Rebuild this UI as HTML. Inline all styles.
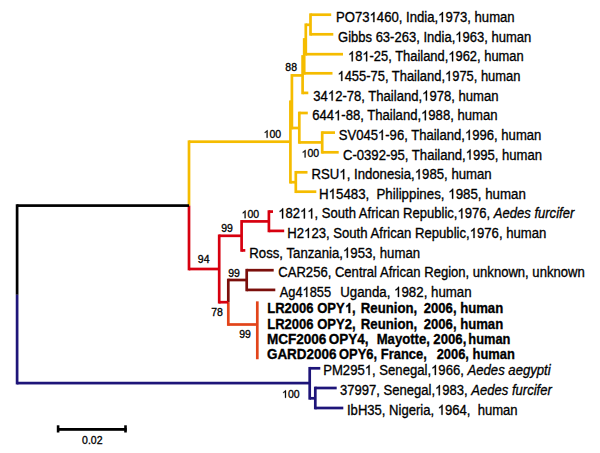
<!DOCTYPE html>
<html><head><meta charset="utf-8"><style>
html,body{margin:0;padding:0;background:#fff;}
svg{display:block;}
.t{font-family:"Liberation Sans",sans-serif;font-size:13px;fill:#000;stroke:#000;stroke-width:0.3px;white-space:pre;}
.b{font-weight:bold;}
.l{font-family:"Liberation Sans",sans-serif;font-size:10.5px;fill:#000;stroke:#000;stroke-width:0.3px;}
.o{fill-opacity:0;stroke-opacity:0;}
</style></head><body>
<svg width="600" height="453" viewBox="0 0 600 453" xml:space="preserve">
<rect width="600" height="453" fill="#fff"/>
<g>
<rect x="15.75" y="204.25" width="2.7" height="90.55" fill="#000"/>
<rect x="15.75" y="294.80" width="2.7" height="89.65" fill="#1e1579"/>
<rect x="187.65" y="140.35" width="2.7" height="65.25" fill="#f5bc00"/>
<rect x="187.65" y="205.60" width="2.7" height="64.75" fill="#d7000f"/>
<rect x="289.05" y="100.45" width="2.7" height="83.10" fill="#f5bc00"/>
<rect x="290.55" y="74.05" width="2.7" height="55.30" fill="#f5bc00"/>
<rect x="301.25" y="55.15" width="2.7" height="39.10" fill="#f5bc00"/>
<rect x="302.85" y="38.15" width="2.7" height="36.50" fill="#f5bc00"/>
<rect x="304.45" y="23.45" width="2.7" height="32.10" fill="#f5bc00"/>
<rect x="309.15" y="13.35" width="2.7" height="22.30" fill="#f5bc00"/>
<rect x="297.95" y="111.65" width="2.7" height="32.10" fill="#f5bc00"/>
<rect x="320.85" y="131.25" width="2.7" height="22.40" fill="#f5bc00"/>
<rect x="294.45" y="170.95" width="2.7" height="22.10" fill="#f5bc00"/>
<rect x="217.85" y="234.45" width="2.7" height="69.10" fill="#d7000f"/>
<rect x="240.25" y="220.05" width="2.7" height="31.70" fill="#d7000f"/>
<rect x="267.55" y="210.25" width="2.7" height="22.00" fill="#d7000f"/>
<rect x="226.95" y="278.65" width="2.7" height="23.55" fill="#7b0f0b"/>
<rect x="226.95" y="302.20" width="2.7" height="23.65" fill="#e2441a"/>
<rect x="245.35" y="268.85" width="2.7" height="22.40" fill="#7b0f0b"/>
<rect x="255.95" y="301.35" width="2.7" height="57.90" fill="#e2441a"/>
<rect x="308.35" y="366.95" width="2.7" height="32.70" fill="#1e1579"/>
<rect x="313.95" y="386.65" width="2.7" height="22.70" fill="#1e1579"/>
<rect x="17.10" y="204.25" width="171.90" height="2.7" fill="#000"/>
<rect x="17.10" y="381.75" width="292.60" height="2.7" fill="#1e1579"/>
<rect x="189.00" y="140.35" width="101.40" height="2.7" fill="#f5bc00"/>
<rect x="290.40" y="100.45" width="1.50" height="2.7" fill="#f5bc00"/>
<rect x="290.40" y="180.85" width="5.40" height="2.7" fill="#f5bc00"/>
<rect x="291.90" y="74.05" width="10.70" height="2.7" fill="#f5bc00"/>
<rect x="291.90" y="126.65" width="7.40" height="2.7" fill="#f5bc00"/>
<rect x="302.60" y="55.15" width="1.60" height="2.7" fill="#f5bc00"/>
<rect x="302.60" y="91.55" width="5.70" height="2.7" fill="#f5bc00"/>
<rect x="304.20" y="38.15" width="1.60" height="2.7" fill="#f5bc00"/>
<rect x="304.20" y="71.95" width="28.30" height="2.7" fill="#f5bc00"/>
<rect x="305.80" y="23.45" width="4.70" height="2.7" fill="#f5bc00"/>
<rect x="305.80" y="52.85" width="37.20" height="2.7" fill="#f5bc00"/>
<rect x="310.50" y="13.35" width="20.70" height="2.7" fill="#f5bc00"/>
<rect x="310.50" y="32.95" width="22.80" height="2.7" fill="#f5bc00"/>
<rect x="299.30" y="111.65" width="8.50" height="2.7" fill="#f5bc00"/>
<rect x="299.30" y="141.05" width="22.90" height="2.7" fill="#f5bc00"/>
<rect x="322.20" y="131.25" width="12.80" height="2.7" fill="#f5bc00"/>
<rect x="322.20" y="150.95" width="16.50" height="2.7" fill="#f5bc00"/>
<rect x="295.80" y="170.95" width="11.70" height="2.7" fill="#f5bc00"/>
<rect x="295.80" y="190.35" width="20.50" height="2.7" fill="#f5bc00"/>
<rect x="189.00" y="267.65" width="30.20" height="2.7" fill="#d7000f"/>
<rect x="219.20" y="234.45" width="22.40" height="2.7" fill="#d7000f"/>
<rect x="219.20" y="300.85" width="9.10" height="2.7" fill="#d7000f"/>
<rect x="241.60" y="220.05" width="27.30" height="2.7" fill="#d7000f"/>
<rect x="241.60" y="249.05" width="3.70" height="2.7" fill="#d7000f"/>
<rect x="268.90" y="210.25" width="4.10" height="2.7" fill="#d7000f"/>
<rect x="268.90" y="229.55" width="15.30" height="2.7" fill="#d7000f"/>
<rect x="228.30" y="278.65" width="18.40" height="2.7" fill="#7b0f0b"/>
<rect x="228.30" y="323.15" width="29.00" height="2.7" fill="#e2441a"/>
<rect x="246.70" y="268.85" width="27.00" height="2.7" fill="#7b0f0b"/>
<rect x="246.70" y="288.55" width="28.60" height="2.7" fill="#7b0f0b"/>
<rect x="309.70" y="366.95" width="10.60" height="2.7" fill="#1e1579"/>
<rect x="309.70" y="396.95" width="5.60" height="2.7" fill="#1e1579"/>
<rect x="315.30" y="386.65" width="21.40" height="2.7" fill="#1e1579"/>
<rect x="315.30" y="406.65" width="28.00" height="2.7" fill="#1e1579"/>
</g>
<rect x="57.2" y="428.0" width="69.5" height="2.8" fill="#000"/>
<rect x="56.8" y="425.3" width="2.6" height="7.2" fill="#000"/>
<rect x="124.2" y="425.3" width="2.6" height="7.2" fill="#000"/>
<text transform="translate(335.99,22.10) scale(1.0097,1.08)" class="t">PO73<tspan class="o">1</tspan>460, India,<tspan class="o">1</tspan>973, human</text>
<text transform="translate(338.00,41.73) scale(1.0026,1.08)" class="t">Gibbs 63-263, India,<tspan class="o">1</tspan>963, human</text>
<text transform="translate(348.00,61.36) scale(0.9944,1.08)" class="t"><tspan class="o">1</tspan>8<tspan class="o">1</tspan>-25, Thailand,<tspan class="o">1</tspan>962, human</text>
<text transform="translate(337.50,80.99) scale(0.9946,1.08)" class="t"><tspan class="o">1</tspan>455-75, Thailand,<tspan class="o">1</tspan>975, human</text>
<text transform="translate(313.30,100.62) scale(1.0065,1.08)" class="t">34<tspan class="o">1</tspan>2-78, Thailand,<tspan class="o">1</tspan>978, human</text>
<text transform="translate(312.20,120.25) scale(1.0071,1.08)" class="t">644<tspan class="o">1</tspan>-88, Thailand,<tspan class="o">1</tspan>988, human</text>
<text transform="translate(338.70,139.88) scale(1.0065,1.08)" class="t">SV045<tspan class="o">1</tspan>-96, Thailand,<tspan class="o">1</tspan>996, human</text>
<text transform="translate(343.00,159.51) scale(1.0076,1.08)" class="t">C-0392-95, Thailand,<tspan class="o">1</tspan>995, human</text>
<text transform="translate(311.49,179.14) scale(1.0142,1.08)" class="t">RSU<tspan class="o">1</tspan>, Indonesia,<tspan class="o">1</tspan>985, human</text>
<text transform="translate(318.98,198.77) scale(1.0250,1.08)" class="t">H<tspan class="o">1</tspan>5483,</text>
<text transform="translate(376.48,198.77) scale(1.0241,1.08)" class="t">Philippines, <tspan class="o">1</tspan>985, human</text>
<text transform="translate(278.30,218.40) scale(1.0041,1.08)" class="t"><tspan class="o">1</tspan>82<tspan class="o">1</tspan><tspan class="o">1</tspan>, South African Republic,<tspan class="o">1</tspan>976, <tspan font-style="italic">Aedes furcifer</tspan></text>
<text transform="translate(287.29,238.03) scale(1.0110,1.08)" class="t">H2<tspan class="o">1</tspan>23, South African Republic,<tspan class="o">1</tspan>976, human</text>
<text transform="translate(249.28,257.66) scale(1.0162,1.08)" class="t">Ross, Tanzania,<tspan class="o">1</tspan>953, human</text>
<text transform="translate(278.30,277.29) scale(1.0062,1.08)" class="t">CAR256, Central African Region, unknown, unknown</text>
<text transform="translate(279.70,296.92) scale(0.9865,1.08)" class="t">Ag4<tspan class="o">1</tspan>855</text>
<text transform="translate(340.20,296.92) scale(1.0219,1.08)" class="t">Uganda, <tspan class="o">1</tspan>982, human</text>
<text transform="translate(323.19,375.00) scale(1.0089,1.08)" class="t">PM295<tspan class="o">1</tspan>, Senegal,<tspan class="o">1</tspan>966, <tspan font-style="italic">Aedes aegypti</tspan></text>
<text transform="translate(340.00,395.20) scale(1.0038,1.08)" class="t">37997, Senegal,<tspan class="o">1</tspan>983, <tspan font-style="italic">Aedes furcifer</tspan></text>
<text transform="translate(346.99,414.80) scale(1.0059,1.08)" class="t">IbH35, Nigeria, <tspan class="o">1</tspan>964,  human</text>
<text transform="translate(267.20,313.00) scale(1.0034,1.08)" class="t b">LR2006 OPY<tspan class="o">1</tspan>,</text>
<text transform="translate(360.80,313.00) scale(1.0164,1.08)" class="t b">Reunion,</text>
<text transform="translate(423.70,313.00) scale(1.0101,1.08)" class="t b">2006, human</text>
<text transform="translate(267.20,328.50) scale(1.0034,1.08)" class="t b">LR2006 OPY2,</text>
<text transform="translate(360.80,328.50) scale(1.0164,1.08)" class="t b">Reunion,</text>
<text transform="translate(423.70,328.50) scale(1.0101,1.08)" class="t b">2006, human</text>
<text transform="translate(266.90,344.20) scale(1.0421,1.08)" class="t b">MCF2006</text>
<text transform="translate(328.70,344.20) scale(1.0421,1.08)" class="t b">OPY4,</text>
<text transform="translate(376.70,344.20) scale(1.0096,1.08)" class="t b">Mayotte,</text>
<text transform="translate(433.30,344.20) scale(1.0156,1.08)" class="t b">2006,</text>
<text transform="translate(468.30,344.20) scale(0.9884,1.08)" class="t b">human</text>
<text transform="translate(266.90,359.40) scale(1.0373,1.08)" class="t b">GARD2006</text>
<text transform="translate(339.00,359.40) scale(0.9966,1.08)" class="t b">OPY6, France,</text>
<text transform="translate(436.70,359.40) scale(0.9924,1.08)" class="t b">2006, human</text>
<text x="285.35" y="70.55" class="l">88</text>
<text x="263.65" y="137.75" class="l"><tspan class="o">1</tspan>00</text>
<text x="301.65" y="157.45" class="l"><tspan class="o">1</tspan>00</text>
<text x="241.65" y="218.15" class="l"><tspan class="o">1</tspan>00</text>
<text x="221.25" y="231.95" class="l">99</text>
<text x="197.85" y="263.45" class="l">94</text>
<text x="228.15" y="277.15" class="l">99</text>
<text x="211.15" y="315.95" class="l">78</text>
<text x="239.25" y="337.75" class="l">99</text>
<text x="282.05" y="397.85" class="l"><tspan class="o">1</tspan>00</text>
<text x="82.05" y="443.75" class="l">0.02</text>
<g transform="translate(335.99,22.10) scale(1.0097,1.08)"><path transform="translate(33.22,0.00) scale(0.006348,-0.006348)" d="M763 0H583V1147Q518 1085 412 1023T221 930V1104Q372 1175 485 1276T645 1472H763Z" fill="#000" stroke="#000" stroke-width="47.3"/></g>
<g transform="translate(335.99,22.10) scale(1.0097,1.08)"><path transform="translate(101.12,0.00) scale(0.006348,-0.006348)" d="M763 0H583V1147Q518 1085 412 1023T221 930V1104Q372 1175 485 1276T645 1472H763Z" fill="#000" stroke="#000" stroke-width="47.3"/></g>
<g transform="translate(338.00,41.73) scale(1.0026,1.08)"><path transform="translate(116.96,0.00) scale(0.006348,-0.006348)" d="M763 0H583V1147Q518 1085 412 1023T221 930V1104Q372 1175 485 1276T645 1472H763Z" fill="#000" stroke="#000" stroke-width="47.3"/></g>
<g transform="translate(348.00,61.36) scale(0.9944,1.08)"><path transform="translate(0.00,0.00) scale(0.006348,-0.006348)" d="M763 0H583V1147Q518 1085 412 1023T221 930V1104Q372 1175 485 1276T645 1472H763Z" fill="#000" stroke="#000" stroke-width="47.3"/></g>
<g transform="translate(348.00,61.36) scale(0.9944,1.08)"><path transform="translate(14.45,0.00) scale(0.006348,-0.006348)" d="M763 0H583V1147Q518 1085 412 1023T221 930V1104Q372 1175 485 1276T645 1472H763Z" fill="#000" stroke="#000" stroke-width="47.3"/></g>
<g transform="translate(348.00,61.36) scale(0.9944,1.08)"><path transform="translate(100.88,0.00) scale(0.006348,-0.006348)" d="M763 0H583V1147Q518 1085 412 1023T221 930V1104Q372 1175 485 1276T645 1472H763Z" fill="#000" stroke="#000" stroke-width="47.3"/></g>
<g transform="translate(337.50,80.99) scale(0.9946,1.08)"><path transform="translate(0.00,0.00) scale(0.006348,-0.006348)" d="M763 0H583V1147Q518 1085 412 1023T221 930V1104Q372 1175 485 1276T645 1472H763Z" fill="#000" stroke="#000" stroke-width="47.3"/></g>
<g transform="translate(337.50,80.99) scale(0.9946,1.08)"><path transform="translate(108.09,0.00) scale(0.006348,-0.006348)" d="M763 0H583V1147Q518 1085 412 1023T221 930V1104Q372 1175 485 1276T645 1472H763Z" fill="#000" stroke="#000" stroke-width="47.3"/></g>
<g transform="translate(313.30,100.62) scale(1.0065,1.08)"><path transform="translate(14.46,0.00) scale(0.006348,-0.006348)" d="M763 0H583V1147Q518 1085 412 1023T221 930V1104Q372 1175 485 1276T645 1472H763Z" fill="#000" stroke="#000" stroke-width="47.3"/></g>
<g transform="translate(313.30,100.62) scale(1.0065,1.08)"><path transform="translate(108.13,0.00) scale(0.006348,-0.006348)" d="M763 0H583V1147Q518 1085 412 1023T221 930V1104Q372 1175 485 1276T645 1472H763Z" fill="#000" stroke="#000" stroke-width="47.3"/></g>
<g transform="translate(312.20,120.25) scale(1.0071,1.08)"><path transform="translate(21.68,0.00) scale(0.006348,-0.006348)" d="M763 0H583V1147Q518 1085 412 1023T221 930V1104Q372 1175 485 1276T645 1472H763Z" fill="#000" stroke="#000" stroke-width="47.3"/></g>
<g transform="translate(312.20,120.25) scale(1.0071,1.08)"><path transform="translate(108.10,0.00) scale(0.006348,-0.006348)" d="M763 0H583V1147Q518 1085 412 1023T221 930V1104Q372 1175 485 1276T645 1472H763Z" fill="#000" stroke="#000" stroke-width="47.3"/></g>
<g transform="translate(338.70,139.88) scale(1.0065,1.08)"><path transform="translate(39.02,0.00) scale(0.006348,-0.006348)" d="M763 0H583V1147Q518 1085 412 1023T221 930V1104Q372 1175 485 1276T645 1472H763Z" fill="#000" stroke="#000" stroke-width="47.3"/></g>
<g transform="translate(338.70,139.88) scale(1.0065,1.08)"><path transform="translate(125.46,0.00) scale(0.006348,-0.006348)" d="M763 0H583V1147Q518 1085 412 1023T221 930V1104Q372 1175 485 1276T645 1472H763Z" fill="#000" stroke="#000" stroke-width="47.3"/></g>
<g transform="translate(343.00,159.51) scale(1.0076,1.08)"><path transform="translate(121.76,0.00) scale(0.006348,-0.006348)" d="M763 0H583V1147Q518 1085 412 1023T221 930V1104Q372 1175 485 1276T645 1472H763Z" fill="#000" stroke="#000" stroke-width="47.3"/></g>
<g transform="translate(311.49,179.14) scale(1.0142,1.08)"><path transform="translate(27.43,0.00) scale(0.006348,-0.006348)" d="M763 0H583V1147Q518 1085 412 1023T221 930V1104Q372 1175 485 1276T645 1472H763Z" fill="#000" stroke="#000" stroke-width="47.3"/></g>
<g transform="translate(311.49,179.14) scale(1.0142,1.08)"><path transform="translate(101.84,0.00) scale(0.006348,-0.006348)" d="M763 0H583V1147Q518 1085 412 1023T221 930V1104Q372 1175 485 1276T645 1472H763Z" fill="#000" stroke="#000" stroke-width="47.3"/></g>
<g transform="translate(318.98,198.77) scale(1.0250,1.08)"><path transform="translate(9.38,0.00) scale(0.006348,-0.006348)" d="M763 0H583V1147Q518 1085 412 1023T221 930V1104Q372 1175 485 1276T645 1472H763Z" fill="#000" stroke="#000" stroke-width="47.3"/></g>
<g transform="translate(376.48,198.77) scale(1.0241,1.08)"><path transform="translate(70.06,0.00) scale(0.006348,-0.006348)" d="M763 0H583V1147Q518 1085 412 1023T221 930V1104Q372 1175 485 1276T645 1472H763Z" fill="#000" stroke="#000" stroke-width="47.3"/></g>
<g transform="translate(278.30,218.40) scale(1.0041,1.08)"><path transform="translate(0.00,0.00) scale(0.006348,-0.006348)" d="M763 0H583V1147Q518 1085 412 1023T221 930V1104Q372 1175 485 1276T645 1472H763Z" fill="#000" stroke="#000" stroke-width="47.3"/></g>
<g transform="translate(278.30,218.40) scale(1.0041,1.08)"><path transform="translate(21.70,0.00) scale(0.006348,-0.006348)" d="M763 0H583V1147Q518 1085 412 1023T221 930V1104Q372 1175 485 1276T645 1472H763Z" fill="#000" stroke="#000" stroke-width="47.3"/></g>
<g transform="translate(278.30,218.40) scale(1.0041,1.08)"><path transform="translate(28.94,0.00) scale(0.006348,-0.006348)" d="M763 0H583V1147Q518 1085 412 1023T221 930V1104Q372 1175 485 1276T645 1472H763Z" fill="#000" stroke="#000" stroke-width="47.3"/></g>
<g transform="translate(278.30,218.40) scale(1.0041,1.08)"><path transform="translate(178.45,0.00) scale(0.006348,-0.006348)" d="M763 0H583V1147Q518 1085 412 1023T221 930V1104Q372 1175 485 1276T645 1472H763Z" fill="#000" stroke="#000" stroke-width="47.3"/></g>
<g transform="translate(287.29,238.03) scale(1.0110,1.08)"><path transform="translate(16.59,0.00) scale(0.006348,-0.006348)" d="M763 0H583V1147Q518 1085 412 1023T221 930V1104Q372 1175 485 1276T645 1472H763Z" fill="#000" stroke="#000" stroke-width="47.3"/></g>
<g transform="translate(287.29,238.03) scale(1.0110,1.08)"><path transform="translate(180.41,0.00) scale(0.006348,-0.006348)" d="M763 0H583V1147Q518 1085 412 1023T221 930V1104Q372 1175 485 1276T645 1472H763Z" fill="#000" stroke="#000" stroke-width="47.3"/></g>
<g transform="translate(249.28,257.66) scale(1.0162,1.08)"><path transform="translate(92.22,0.00) scale(0.006348,-0.006348)" d="M763 0H583V1147Q518 1085 412 1023T221 930V1104Q372 1175 485 1276T645 1472H763Z" fill="#000" stroke="#000" stroke-width="47.3"/></g>
<g transform="translate(279.70,296.92) scale(0.9865,1.08)"><path transform="translate(23.13,0.00) scale(0.006348,-0.006348)" d="M763 0H583V1147Q518 1085 412 1023T221 930V1104Q372 1175 485 1276T645 1472H763Z" fill="#000" stroke="#000" stroke-width="47.3"/></g>
<g transform="translate(340.20,296.92) scale(1.0219,1.08)"><path transform="translate(52.73,0.00) scale(0.006348,-0.006348)" d="M763 0H583V1147Q518 1085 412 1023T221 930V1104Q372 1175 485 1276T645 1472H763Z" fill="#000" stroke="#000" stroke-width="47.3"/></g>
<g transform="translate(323.19,375.00) scale(1.0089,1.08)"><path transform="translate(41.18,0.00) scale(0.006348,-0.006348)" d="M763 0H583V1147Q518 1085 412 1023T221 930V1104Q372 1175 485 1276T645 1472H763Z" fill="#000" stroke="#000" stroke-width="47.3"/></g>
<g transform="translate(323.19,375.00) scale(1.0089,1.08)"><path transform="translate(106.93,0.00) scale(0.006348,-0.006348)" d="M763 0H583V1147Q518 1085 412 1023T221 930V1104Q372 1175 485 1276T645 1472H763Z" fill="#000" stroke="#000" stroke-width="47.3"/></g>
<g transform="translate(340.00,395.20) scale(1.0038,1.08)"><path transform="translate(94.66,0.00) scale(0.006348,-0.006348)" d="M763 0H583V1147Q518 1085 412 1023T221 930V1104Q372 1175 485 1276T645 1472H763Z" fill="#000" stroke="#000" stroke-width="47.3"/></g>
<g transform="translate(346.99,414.80) scale(1.0059,1.08)"><path transform="translate(90.19,0.00) scale(0.006348,-0.006348)" d="M763 0H583V1147Q518 1085 412 1023T221 930V1104Q372 1175 485 1276T645 1472H763Z" fill="#000" stroke="#000" stroke-width="47.3"/></g>
<g transform="translate(267.20,313.00) scale(1.0034,1.08)"><path transform="translate(77.30,0.00) scale(0.006348,-0.006348)" d="M856 0H582V1033Q432 893 228 826V1075Q335 1110 461 1208T634 1466H856Z" fill="#000" stroke="#000" stroke-width="47.3"/></g>
<g transform=""><path transform="translate(263.65,137.75) scale(0.005127,-0.005127)" d="M763 0H583V1147Q518 1085 412 1023T221 930V1104Q372 1175 485 1276T645 1472H763Z" fill="#000" stroke="#000" stroke-width="58.5"/></g>
<g transform=""><path transform="translate(301.65,157.45) scale(0.005127,-0.005127)" d="M763 0H583V1147Q518 1085 412 1023T221 930V1104Q372 1175 485 1276T645 1472H763Z" fill="#000" stroke="#000" stroke-width="58.5"/></g>
<g transform=""><path transform="translate(241.65,218.15) scale(0.005127,-0.005127)" d="M763 0H583V1147Q518 1085 412 1023T221 930V1104Q372 1175 485 1276T645 1472H763Z" fill="#000" stroke="#000" stroke-width="58.5"/></g>
<g transform=""><path transform="translate(282.05,397.85) scale(0.005127,-0.005127)" d="M763 0H583V1147Q518 1085 412 1023T221 930V1104Q372 1175 485 1276T645 1472H763Z" fill="#000" stroke="#000" stroke-width="58.5"/></g>
</svg>
</body></html>
